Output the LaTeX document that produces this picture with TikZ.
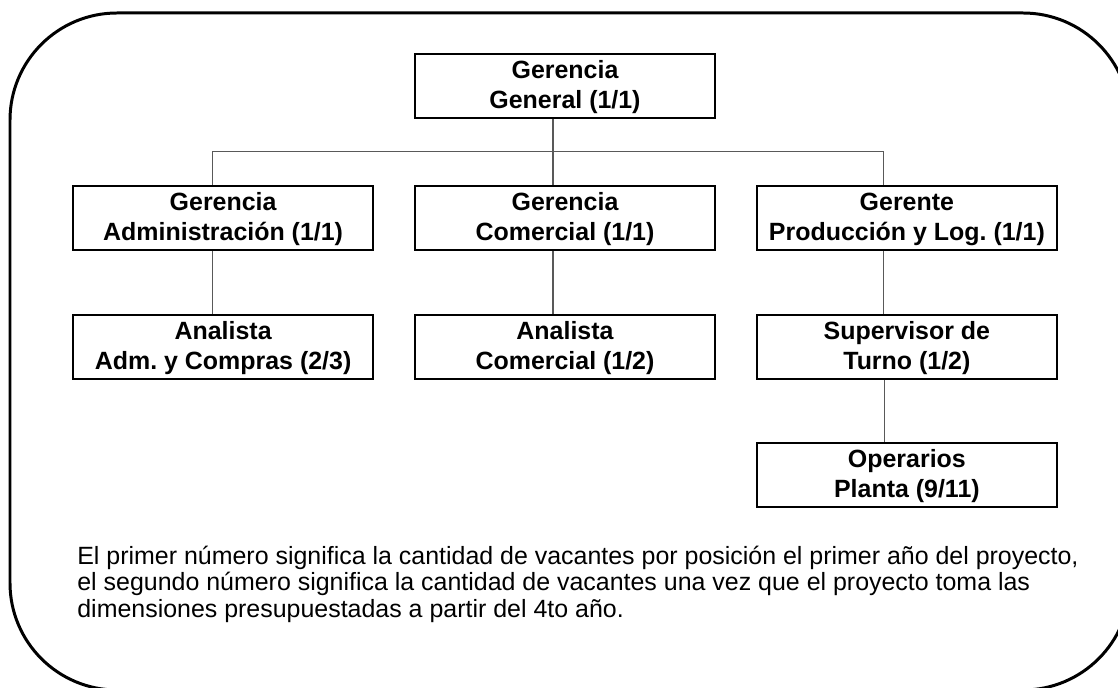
\documentclass[tikz,border=0pt]{standalone}
\usepackage{fontspec}
\setmainfont{Liberation Sans}
\usetikzlibrary{positioning}
\tikzset{
    %Define style for boxes
    puesto/.style={
           rectangle,
           draw=black, line width=1.1pt,
           minimum width=6cm,
           minimum height=1.28cm,
           inner sep=0pt,
           text height=0.92cm,
           text depth=0pt,
           align=center,
           font=\fontsize{14.2}{17.1}\selectfont\bfseries},
    % Define connector style
    linea/.style={
           draw=black!65,
           line width=0.6pt}
}

\begin{document}
\begin{tikzpicture}[x=0.02cm, y=-0.02cm,
marco/.style={draw=black, line width=1.7pt, rounded corners=2.14cm},
nota/.style={align=left, inner sep=0pt, font=\fontsize{14.2}{14.8}\selectfont}
]
\useasboundingbox (0,0) rectangle (1118,688);
\clip (0,0) rectangle (1118,688);
%Frame
\draw[marco] (10,13) rectangle (1130,690);
%Nodes
\node[puesto] (gg) at (565,86) {Gerencia\\General (1/1)};
\node[puesto] (gc) [below=1.32cm of gg] {Gerencia\\Comercial (1/1)};
\node[puesto] (ga) [left=0.8cm of gc] {Gerencia\\Administración (1/1)};
\node[puesto] (gp) [right=0.8cm of gc] {Gerente\\Producción y Log.\ (1/1)};
\node[puesto] (aa) [below=1.26cm of ga] {Analista\\Adm.\ y Compras (2/3)};
\node[puesto] (ac) [below=1.26cm of gc] {Analista\\Comercial (1/2)};
\node[puesto] (st) [below=1.26cm of gp] {Supervisor de\\Turno (1/2)};
\node[puesto] (op) [below=1.24cm of st] {Operarios\\Planta (9/11)};
\node[nota, anchor=base west] (nt) at (77,617) {El primer número significa la cantidad de vacantes por posición el primer año del proyecto,\\
el segundo número significa la cantidad de vacantes una vez que el proyecto toma las\\
dimensiones presupuestadas a partir del 4to año.};
%Connectors
\draw[linea] ([xshift=-0.24cm]gg.south) -- ([xshift=-0.24cm]gc.north);
\draw[linea] ([xshift=-0.22cm]ga.north) -- ++(0,-33) -| ([xshift=-0.46cm]gp.north);
\draw[linea] ([xshift=-0.22cm]ga.south) -- ([xshift=-0.22cm]aa.north);
\draw[linea] ([xshift=-0.24cm]gc.south) -- ([xshift=-0.24cm]ac.north);
\draw[linea] ([xshift=-0.46cm]gp.south) -- ([xshift=-0.46cm]st.north);
\draw[linea] ([xshift=-0.44cm]st.south) -- ([xshift=-0.44cm]op.north);
\end{tikzpicture}
\end{document}
